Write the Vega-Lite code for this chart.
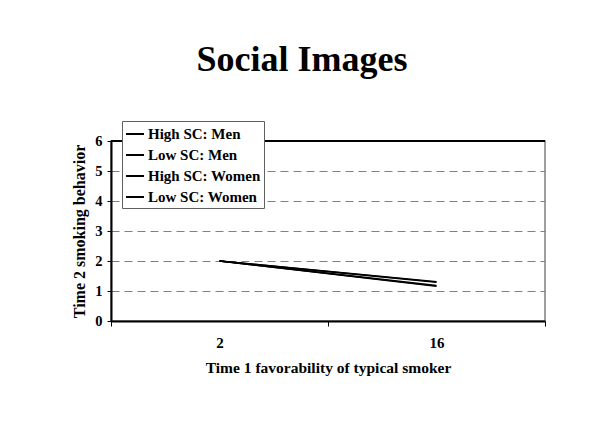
{
  "$schema": "https://vega.github.io/schema/vega-lite/v6.json",
  "width": 434,
  "height": 180,
  "autosize": {"type": "none"},
  "padding": {"left": 111, "top": 141, "right": 49, "bottom": 126},
  "background": "white",
  "title": {
    "text": "Social Images",
    "font": "Liberation Serif",
    "fontSize": 36,
    "fontWeight": "bold",
    "color": "black",
    "anchor": "middle",
    "baseline": "alphabetic",
    "dx": -26,
    "offset": 14
  },
  "config": {
    "view": {"stroke": "#808080", "strokeWidth": 1.5},
    "font": "Liberation Serif",
    "axis": {
      "labelFont": "Liberation Serif",
      "titleFont": "Liberation Serif",
      "labelFontWeight": "bold",
      "titleFontWeight": "bold",
      "labelColor": "black",
      "titleColor": "black",
      "domainColor": "black",
      "tickColor": "black",
      "domainWidth": 2,
      "tickWidth": 1
    }
  },
  "data": {
    "values": [
      {"favorability": "2", "behavior": 2.0, "group": "High SC: Men"},
      {"favorability": "16", "behavior": 1.31, "group": "High SC: Men"},
      {"favorability": "2", "behavior": 2.0, "group": "Low SC: Men"},
      {"favorability": "16", "behavior": 1.29, "group": "Low SC: Men"},
      {"favorability": "2", "behavior": 2.0, "group": "High SC: Women"},
      {"favorability": "16", "behavior": 1.18, "group": "High SC: Women"},
      {"favorability": "2", "behavior": 2.0, "group": "Low SC: Women"},
      {"favorability": "16", "behavior": 1.16, "group": "Low SC: Women"}
    ]
  },
  "resolve": {"axis": {"y": "independent"}},
  "layer": [
    {
      "mark": {"type": "line", "strokeWidth": 1.6},
      "encoding": {
        "x": {
          "field": "favorability",
          "type": "nominal",
          "sort": ["2", "16"],
          "scale": {"type": "band", "paddingInner": 0, "paddingOuter": 0},
          "axis": {
            "title": "Time 1 favorability of typical smoker",
            "labelAngle": 0,
            "labelFontSize": 15,
            "titleFontSize": 15.5,
            "tickBand": "extent",
            "tickSize": 5,
            "labelPadding": 9,
            "titlePadding": 10,
            "grid": false
          }
        },
        "y": {
          "field": "behavior",
          "type": "quantitative",
          "scale": {"domain": [0, 6], "nice": false},
          "axis": {
            "title": "Time 2 smoking behavior",
            "values": [0, 1, 2, 3, 4, 5, 6],
            "labelOverlap": false,
            "labelFontSize": 14.5,
            "titleFontSize": 16,
            "tickSize": 4,
            "labelPadding": 5,
            "titlePadding": 7,
            "grid": true,
            "gridColor": "#808080",
            "gridDash": [8, 5],
            "gridWidth": 1.2
          }
        },
        "color": {
          "field": "group",
          "type": "nominal",
          "scale": {
            "domain": ["High SC: Men", "Low SC: Men", "High SC: Women", "Low SC: Women"],
            "range": ["black", "black", "black", "black"]
          },
          "legend": {
            "title": null,
            "orient": "none",
            "legendX": 11,
            "legendY": -20,
            "fillColor": "white",
            "strokeColor": "#606060",
            "padding": 3,
            "symbolType": "stroke",
            "symbolSize": 324,
            "symbolStrokeWidth": 2,
            "labelFont": "Liberation Serif",
            "labelFontWeight": "bold",
            "labelFontSize": 15,
            "labelColor": "black",
            "labelOffset": 3,
            "rowPadding": 3
          }
        }
      }
    },
    {
      "mark": {"type": "rule", "color": "black", "strokeWidth": 1.2},
      "encoding": {
        "y": {"datum": 6, "type": "quantitative", "axis": null}
      }
    }
  ]
}
